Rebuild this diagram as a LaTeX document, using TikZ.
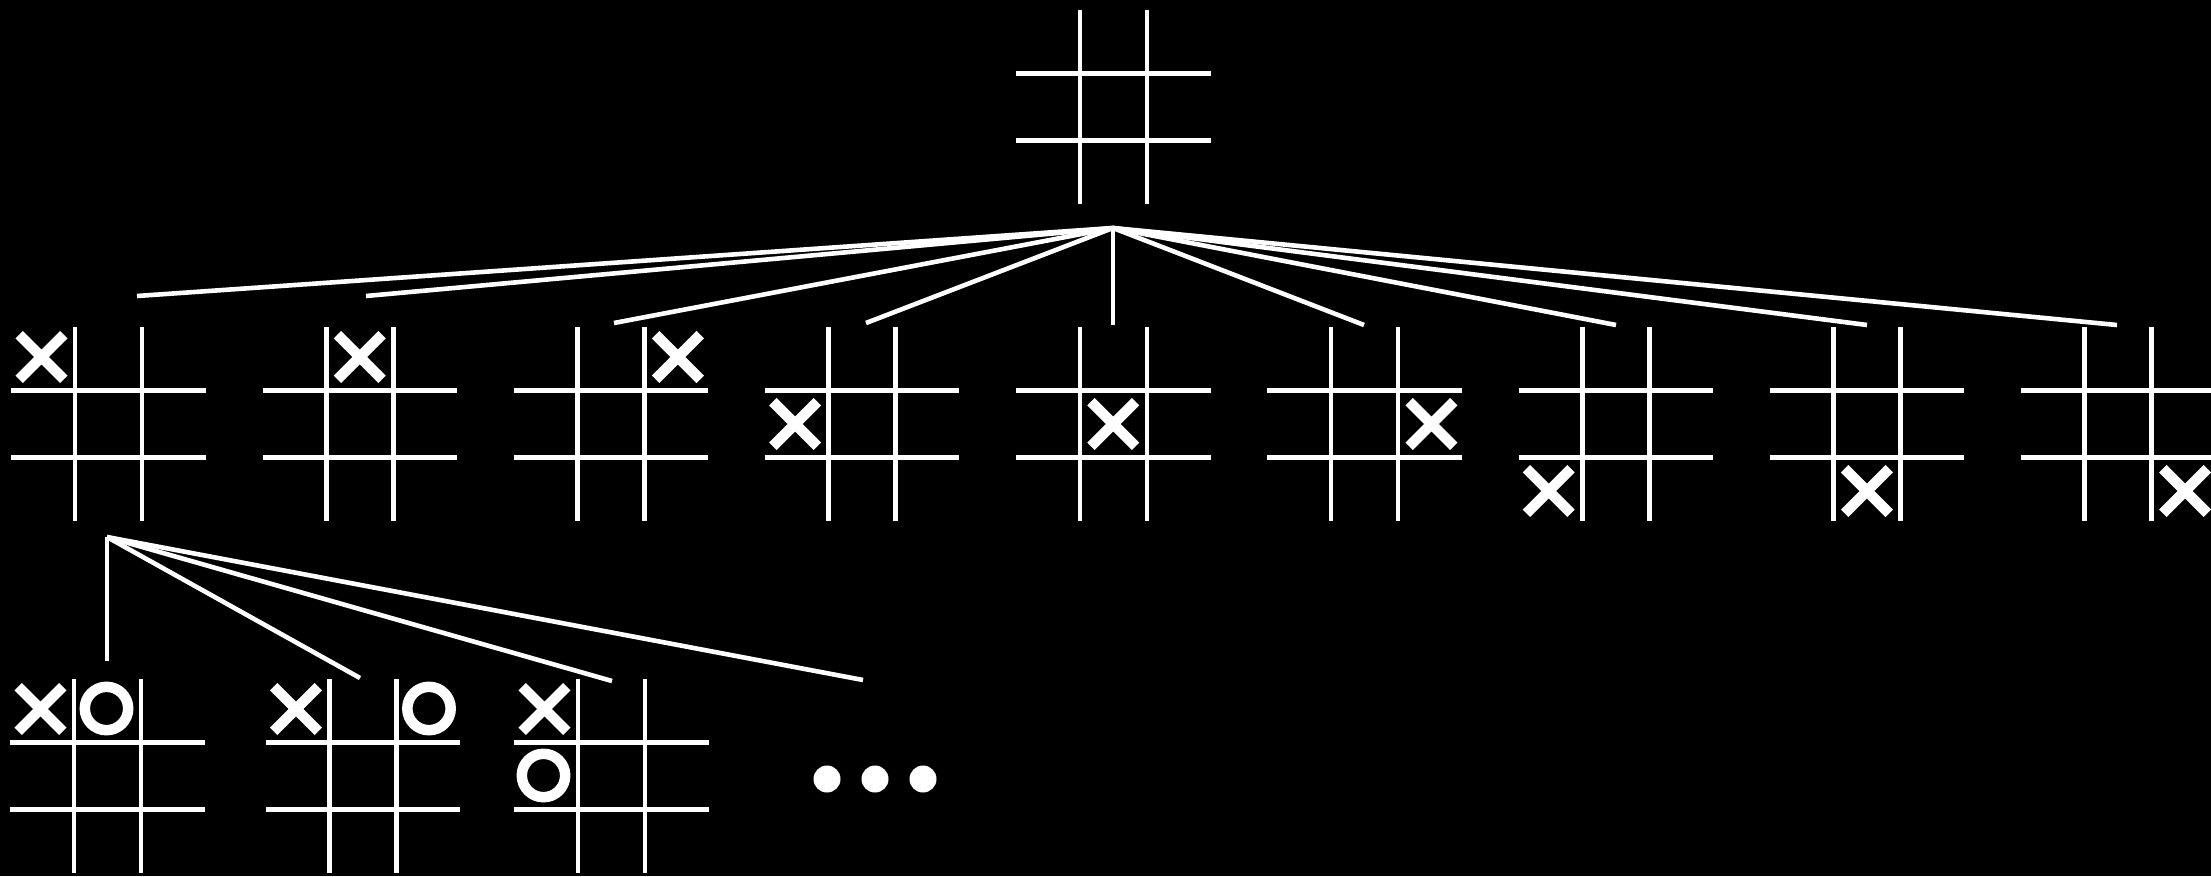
\documentclass[tikz,border=0pt]{standalone}
\usetikzlibrary{calc}
\newcommand\tttboard[3]{%
  \node[board] (#1) at (#2,#3) {};
  \draw[gridline] ([xshift=-33.5pt]#1.north) -- ([xshift=-33.5pt]#1.south);
  \draw[gridline] ([xshift=33.5pt]#1.north) -- ([xshift=33.5pt]#1.south);
  \draw[gridline] ([yshift=33.5pt]#1.west) -- ([yshift=33.5pt]#1.east);
  \draw[gridline] ([yshift=-33.5pt]#1.west) -- ([yshift=-33.5pt]#1.east);
}
\newcommand\tttx[3]{%
  \begin{scope}[shift={(#1.center)}, shift={({67*#2},{67*#3})}]
    \draw[xmark] (-22.3,-22.3) -- (22.3,22.3) (-22.3,22.3) -- (22.3,-22.3);
  \end{scope}
}
\newcommand\ttto[3]{%
  \begin{scope}[shift={(#1.center)}, shift={({67*#2},{67*#3})}]
    \draw[omark] (-1,-0.5) circle[radius=21.7pt];
  \end{scope}
}
\begin{document}
\begin{tikzpicture}[x=1pt,y=-1pt,
  board/.style={rectangle, minimum size=194pt, inner sep=0pt, draw=none},
  gridline/.style={draw=white, line width=4.6pt},
  link/.style={draw=white, line width=4.6pt},
  xmark/.style={draw=white, line width=10.5pt},
  omark/.style={draw=white, line width=10.5pt},
  dot/.style={fill=white}]
\fill[black] (0,0) rectangle (2211,876);
\useasboundingbox (0,0) rectangle (2211,876);
\clip (0,0) rectangle (2211,876);

% root
\tttboard{root}{1113.5}{107}
% first level
\tttboard{a1}{108.5}{424}
\tttboard{a2}{359.7}{424}
\tttboard{a3}{610.9}{424}
\tttboard{a4}{862.1}{424}
\tttboard{a5}{1113.3}{424}
\tttboard{a6}{1364.5}{424}
\tttboard{a7}{1615.7}{424}
\tttboard{a8}{1866.9}{424}
\tttboard{a9}{2118.1}{424}
\tttx{a1}{-1}{-1}
\tttx{a2}{0}{-1}
\tttx{a3}{1}{-1}
\tttx{a4}{-1}{0}
\tttx{a5}{0}{0}
\tttx{a6}{1}{0}
\tttx{a7}{-1}{1}
\tttx{a8}{0}{1}
\tttx{a9}{1}{1}
% second level
\tttboard{b1}{107.5}{776}
\tttboard{b2}{363}{776}
\tttboard{b3}{611.5}{776}
\tttx{b1}{-1}{-1}
\ttto{b1}{0}{-1}
\tttx{b2}{-1}{-1}
\ttto{b2}{1}{-1}
\tttx{b3}{-1}{-1}
\ttto{b3}{-1}{0}

% connector points
\coordinate (rootfoot) at (1113,228);
\coordinate (e1) at (137,296);
\coordinate (e2) at (366,296);
\coordinate (e3) at (614,323);
\coordinate (e4) at (866,323);
\coordinate (e5) at (1113,325);
\coordinate (e6) at (1364,325);
\coordinate (e7) at (1616,325);
\coordinate (e8) at (1867,325);
\coordinate (e9) at (2117,325);
\foreach \e in {e1,e2,e3,e4,e5,e6,e7,e8,e9}
  \draw[link] (rootfoot) -- (\e);

\coordinate (a1foot) at (107,537);
\coordinate (f1) at (107,661);
\coordinate (f2) at (360,678);
\coordinate (f3) at (612,681);
\coordinate (f4) at (863,680);
\foreach \f in {f1,f2,f3,f4}
  \draw[link] (a1foot) -- (\f);

% ellipsis
\node[inner sep=0pt, minimum width=110pt, minimum height=28pt] (more) at (875,779) {};
\fill[dot] ([xshift=-48pt]more.center) circle[radius=13.5pt];
\fill[dot] (more.center) circle[radius=13.5pt];
\fill[dot] ([xshift=48pt]more.center) circle[radius=13.5pt];
\end{tikzpicture}
\end{document}
